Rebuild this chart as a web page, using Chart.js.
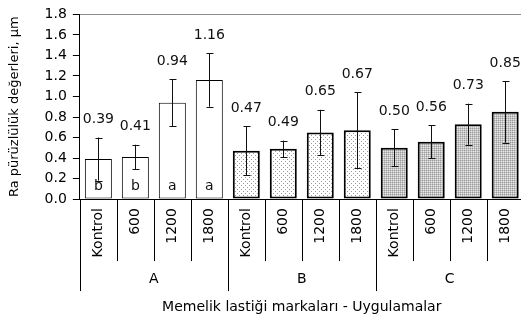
<!DOCTYPE html>
<html>
<head>
<meta charset="utf-8">
<script src="https://cdn.jsdelivr.net/npm/chart.js@4/dist/chart.umd.min.js"></script>
<style>
  html, body { margin: 0; padding: 0; background: #fff; overflow: hidden; }
  #wrap { width: 521px; height: 322px; overflow: hidden; }
  canvas { display: block; }
</style>
</head>
<body>
<div id="wrap"><canvas id="c" width="531" height="322"></canvas></div>
<script>
// Surface roughness (Ra, µm) per teat-rubber brand and application
const treatments = ['Kontrol', '600', '1200', '1800',
                    'Kontrol', '600', '1200', '1800',
                    'Kontrol', '600', '1200', '1800'];
const brands = ['A', 'B', 'C'];
const brandOfBar = ['A', 'A', 'A', 'A', 'B', 'B', 'B', 'B', 'C', 'C', 'C', 'C'];
const raMeans = [0.39, 0.41, 0.94, 1.16, 0.47, 0.49, 0.65, 0.67, 0.50, 0.56, 0.73, 0.85];
const raErrors = [0.21, 0.12, 0.23, 0.26, 0.24, 0.08, 0.22, 0.37, 0.18, 0.16, 0.20, 0.30];
const groupLetters = ['b', 'b', 'a', 'a', '', '', '', '', '', '', '', ''];
const yTicks = [0, 0.2, 0.4, 0.6, 0.8, 1.0, 1.2, 1.4, 1.6, 1.8];

Chart.defaults.font.family = "'DejaVu Sans', Verdana, sans-serif";
Chart.defaults.font.size = 14;
Chart.defaults.color = '#000';

// Fill patterns for brands B (light dots) and C (dense grey dots)
function makePattern(size, bg, dots) {
  const t = document.createElement('canvas');
  t.width = size; t.height = size;
  const g = t.getContext('2d');
  g.fillStyle = bg;
  g.fillRect(0, 0, size, size);
  dots.forEach(([x, y, col]) => { g.fillStyle = col; g.fillRect(x, y, 1, 1); });
  return g.createPattern(t, 'repeat');
}
const ctx = document.getElementById('c').getContext('2d');
const fillB = makePattern(4, '#ffffff', [[1, 1, '#9a9a9a'], [3, 3, '#9a9a9a']]);
const fillC = makePattern(2, '#c4c4c4', [[0, 0, '#9c9c9c'], [1, 1, '#e6e6e6']]);
const fills = { A: '#ffffff', B: fillB, C: fillC };
const borders = { A: 1, B: 2, C: 2 };

// Separator lines of the two-level category axis
const axisDividers = {
  id: 'axisDividers',
  afterDraw(chart) {
    const x = chart.scales.x;
    const n = treatments.length;
    const c = chart.ctx;
    const step = (x.getPixelForTick(n - 1) - x.getPixelForTick(0)) / (n - 1);
    c.save();
    c.strokeStyle = '#000';
    c.lineWidth = 1;
    c.beginPath();
    for (let i = 0; i <= n; i++) {
      const px = Math.round(x.getPixelForTick(0) + (i - 0.5) * step) + 0.5;
      const groupEdge = i === 0 || i === n || brandOfBar[i] !== brandOfBar[i - 1];
      c.moveTo(px, x.top);
      c.lineTo(px, x.top + (groupEdge ? 92 : 62));
    }
    c.stroke();
    c.restore();
  }
};

// Error bars, mean labels, significance letters and plot frame
const annotate = {
  id: 'annotate',
  afterDatasetsDraw(chart) {
    const c = chart.ctx;
    const y = chart.scales.y;
    const area = chart.chartArea;
    const bars = chart.getDatasetMeta(0).data;
    c.save();
    c.strokeStyle = '#8c8c8c';
    c.lineWidth = 1;
    c.beginPath();
    c.moveTo(area.left, Math.round(area.top) + 0.5);
    c.lineTo(Math.round(area.right) - 0.5, Math.round(area.top) + 0.5);
    c.lineTo(Math.round(area.right) - 0.5, area.bottom);
    c.stroke();

    c.strokeStyle = '#111';
    c.fillStyle = '#111';
    bars.forEach((bar, i) => {
      const x = Math.round(bar.x) + 0.5;
      const top = y.getPixelForValue(raMeans[i] + raErrors[i]);
      const bot = y.getPixelForValue(raMeans[i] - raErrors[i]);
      c.beginPath();
      c.moveTo(x, top); c.lineTo(x, bot);
      c.moveTo(x - 3, Math.round(top) + 0.5); c.lineTo(x + 4, Math.round(top) + 0.5);
      c.moveTo(x - 3, Math.round(bot) + 0.5); c.lineTo(x + 4, Math.round(bot) + 0.5);
      c.stroke();

      c.font = "14px 'DejaVu Sans'";
      c.textAlign = 'center';
      c.textBaseline = 'middle';
      c.fillText(raMeans[i].toFixed(2), bar.x, top - 18);

      if (groupLetters[i]) {
        c.fillText(groupLetters[i], bar.x, y.getPixelForValue(0) - 13);
      }
    });
    c.restore();
  }
};

new Chart(ctx, {
  type: 'bar',
  data: {
    labels: treatments,
    datasets: [{
      data: raMeans,
      backgroundColor: brandOfBar.map(b => fills[b]),
      borderColor: '#000',
      borderWidth: brandOfBar.map(b => borders[b]),
      borderSkipped: false,
      categoryPercentage: 1.0,
      barPercentage: 0.73
    }]
  },
  options: {
    responsive: false,
    animation: false,
    events: [],
    layout: { padding: { top: 12, left: 0, right: 0, bottom: 0 } },
    plugins: { legend: { display: false }, tooltip: { enabled: false } },
    scales: {
      x: {
        type: 'category',
        position: 'bottom',
        offset: true,
        weight: 0,
        grid: { offset: true, drawOnChartArea: false, drawTicks: false },
        border: { display: true, color: '#000', width: 1 },
        ticks: { padding: 9, minRotation: 90, maxRotation: 90, autoSkip: false, font: { size: 14 } }
      },
      brand: {
        type: 'category',
        labels: brands,
        position: 'bottom',
        offset: true,
        weight: 1,
        grid: { offset: true, drawOnChartArea: false, drawTicks: false },
        border: { display: false },
        ticks: { padding: 5, maxRotation: 0, autoSkip: false, font: { size: 14 } },
        title: {
          display: true,
          text: 'Memelik lastiği markaları - Uygulamalar',
          font: { size: 14 },
          padding: { top: 6, bottom: 6 }
        }
      },
      y: {
        min: 0,
        max: 1.8,
        afterBuildTicks(scale) { scale.ticks = yTicks.map(v => ({ value: v })); },
        grid: { drawOnChartArea: false, drawTicks: true, tickLength: 7, color: '#000' },
        border: { display: true, color: '#000', width: 1 },
        ticks: { padding: 6, font: { size: 14 }, callback: v => Number(v).toFixed(1) },
        title: {
          display: true,
          text: 'Ra pürüzlülük değerleri, µm',
          font: { size: 13 },
          padding: { top: 7, bottom: 16 }
        }
      }
    }
  },
  plugins: [axisDividers, annotate]
});
</script>
</body>
</html>
